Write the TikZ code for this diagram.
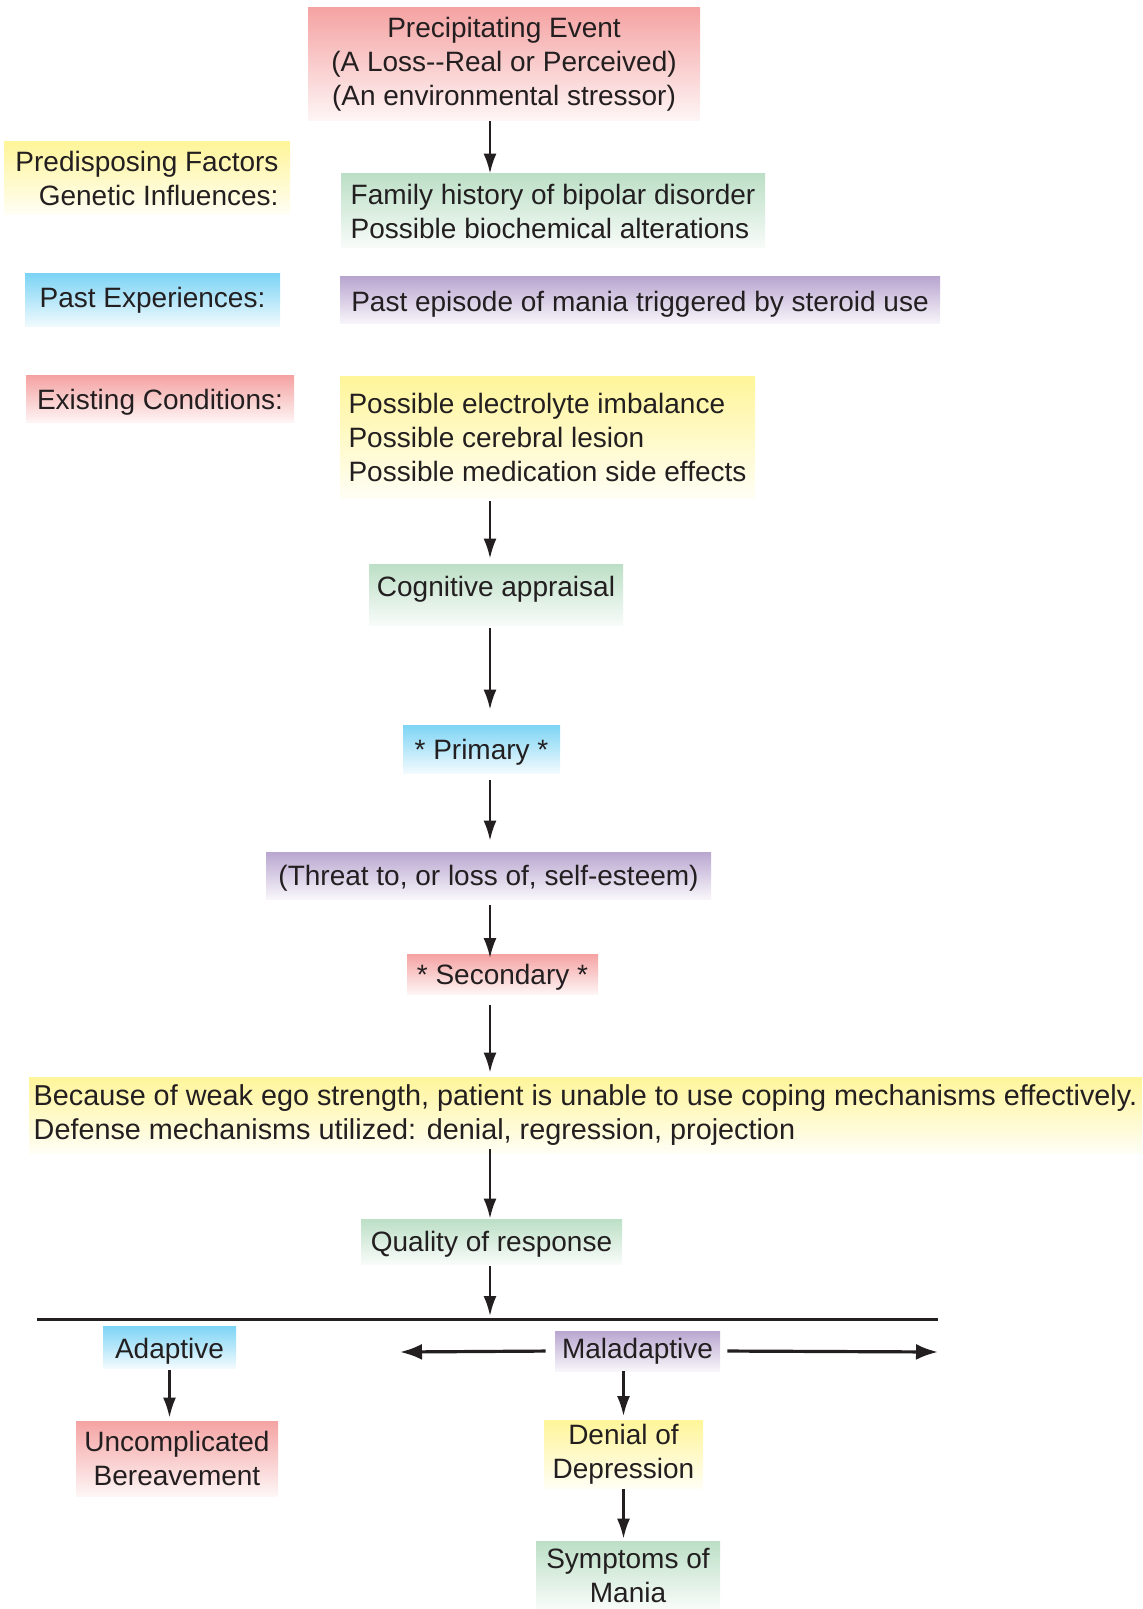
\documentclass[tikz,border=0pt]{standalone}
\usepackage{fontspec}
\setmainfont{Liberation Sans}
\usepackage{xcolor}
\usepackage{tikz}
\usetikzlibrary{arrows.meta,positioning}
\definecolor{stressred}{HTML}{F5A3A3}
\definecolor{stressyellow}{HTML}{FFF59A}
\definecolor{stressgreen}{HTML}{BCDFC6}
\definecolor{stressblue}{HTML}{7DD4F5}
\definecolor{stresspurple}{HTML}{B9A6D0}
\definecolor{darktext}{HTML}{231F20}

\begin{document}
\begin{tikzpicture}[
    x=0.5pt, y=-0.5pt,
    box/.style={
        inner sep=2pt,
        text=darktext,
        font=\fontsize{14}{17}\selectfont
    },
    oneline/.style={text height=13pt, text depth=3pt},
    redbox/.style={box, top color=stressred, bottom color=stressred!10},
    yellowbox/.style={box, top color=stressyellow, bottom color=stressyellow!10},
    greenbox/.style={box, top color=stressgreen, bottom color=stressgreen!10},
    bluebox/.style={box, top color=stressblue, bottom color=stressblue!10},
    purplebox/.style={box, top color=stresspurple, bottom color=stresspurple!10},
    arrow/.style={-{Latex[length=10pt,width=6.5pt]}, line width=1.2pt, draw=darktext},
    widearrow/.style={-{Latex[length=11pt,width=8pt]}, line width=1.6pt, draw=darktext}
]
    \useasboundingbox (0,0) rectangle (1142,1609);
    \coordinate (spine) at (490,0);

    % left column
    \node[yellowbox, align=right, minimum width=143pt, minimum height=36.5pt] (predisposing) at (147,178.5)
        {Predisposing Factors\\Genetic Influences:};
    \node[bluebox, minimum width=127.5pt, minimum height=26.5pt] (pastexp) at (152.5,300.5)
        {Past Experiences:};
    \node[redbox, oneline, minimum width=134pt, minimum height=23.5pt] (existing) at (160,399.5)
        {Existing Conditions:};

    % main column
    \node[redbox, align=center, minimum width=196pt, minimum height=56.5pt] (event) at (504,64.5)
        {Precipitating Event\\(A Loss-{}-Real or Perceived)\\(An environmental stressor)};
    \node[greenbox, align=left, minimum width=212pt, minimum height=37pt] (family) at (553,211)
        {Family history of bipolar disorder\\Possible biochemical alterations};
    \node[purplebox, oneline, text height=14pt, minimum width=300pt, minimum height=23.5pt] (episode) at (640,300.5)
        {Past episode of mania triggered by steroid use};
    \node[yellowbox, align=left, minimum width=207.5pt, minimum height=60.5pt] (possible) at (547.5,437.5)
        {Possible electrolyte imbalance\\Possible cerebral lesion\\Possible medication side effects};
    \node[greenbox, text height=10.2pt, text depth=8pt, minimum width=127pt, minimum height=30.5pt] (appraisal) at (496,594.5)
        {Cognitive appraisal};
    \node[bluebox, oneline, minimum width=78.5pt, minimum height=24pt] (primary) at (481.5,749)
        {* Primary *};
    \node[purplebox, oneline, minimum width=222.5pt, minimum height=23.5pt] (threat) at (488.5,875.5)
        {(Threat to, or loss of, self-esteem)};
    \node[redbox, oneline, minimum width=95.5pt, minimum height=18.5pt] (secondary) at (502.5,974.5)
        {* Secondary *};
    \node[yellowbox, align=left, font=\fontsize{14.4}{17}\selectfont, minimum width=556.5pt, minimum height=38pt] (coping) at (585.5,1115)
        {Because of weak ego strength, patient is unable to use coping mechanisms effectively.\\
        Defense mechanisms utilized: denial, regression, projection};
    \node[greenbox, oneline, minimum width=130.5pt, minimum height=22.5pt] (quality) at (491.5,1241.5)
        {Quality of response};

    % outcomes
    \coordinate (divleft) at (37,1319);
    \coordinate (divright) at (938,1319);
    \coordinate (branch) at (490,1319);
    \coordinate (leftend) at (400,1352);
    \coordinate (rightend) at (938,1352);
    \node[bluebox, oneline, text height=14pt, minimum width=66.5pt, minimum height=19pt] (adaptive) at (169.5,1347)
        {Adaptive};
    \node[purplebox, minimum width=82.5pt, minimum height=20pt] (maladaptive) at (637.5,1351)
        {Maladaptive};
    \node[redbox, align=center, minimum width=101pt, minimum height=37.5pt] (bereavement) at (177,1458.5)
        {Uncomplicated\\Bereavement};
    \node[yellowbox, align=center, minimum width=79.5pt, minimum height=33.5pt] (denial) at (623.5,1454.5)
        {Denial of\\Depression};
    \node[greenbox, align=center, minimum width=92pt, minimum height=34pt] (mania) at (628,1575)
        {Symptoms of\\Mania};

    \draw[arrow] (event.south -| spine) -- (family.north -| spine);
    \draw[arrow, shorten <=1.5pt, shorten >=2.5pt] (possible.south -| spine) -- (appraisal.north -| spine);
    \draw[arrow, shorten <=1.5pt, shorten >=7.5pt] (appraisal.south -| spine) -- (primary.north -| spine);
    \draw[arrow, shorten <=3.5pt, shorten >=5.5pt] (primary.south -| spine) -- (threat.north -| spine);
    \draw[arrow, shorten <=3pt, shorten >=-2pt] (threat.south -| spine) -- (secondary.north -| spine);
    \draw[arrow, shorten <=5pt, shorten >=2pt] (secondary.south -| spine) -- (coping.north -| spine);
    \draw[arrow, shorten <=-2pt] (coping.south -| spine) -- (quality.north -| spine);
    \draw[arrow, shorten <=1pt, shorten >=1.5pt] (quality.south -| spine) -- (branch);
    \draw[line width=1.5pt, draw=darktext] (divleft) -- (divright);

    \draw[widearrow, shorten <=4.5pt] (maladaptive.west) -- (leftend);
    \draw[widearrow, shorten <=3.5pt] (maladaptive.east) -- (rightend);
    \draw[arrow, shorten <=1pt, shorten >=1.5pt] (adaptive.south) -- (adaptive.south |- bereavement.north);
    \draw[arrow, shorten >=2pt] (denial.north |- maladaptive.south) -- (denial.north);
    \draw[arrow, shorten >=1pt] (denial.south) -- (denial.south |- mania.north);
\end{tikzpicture}
\end{document}
